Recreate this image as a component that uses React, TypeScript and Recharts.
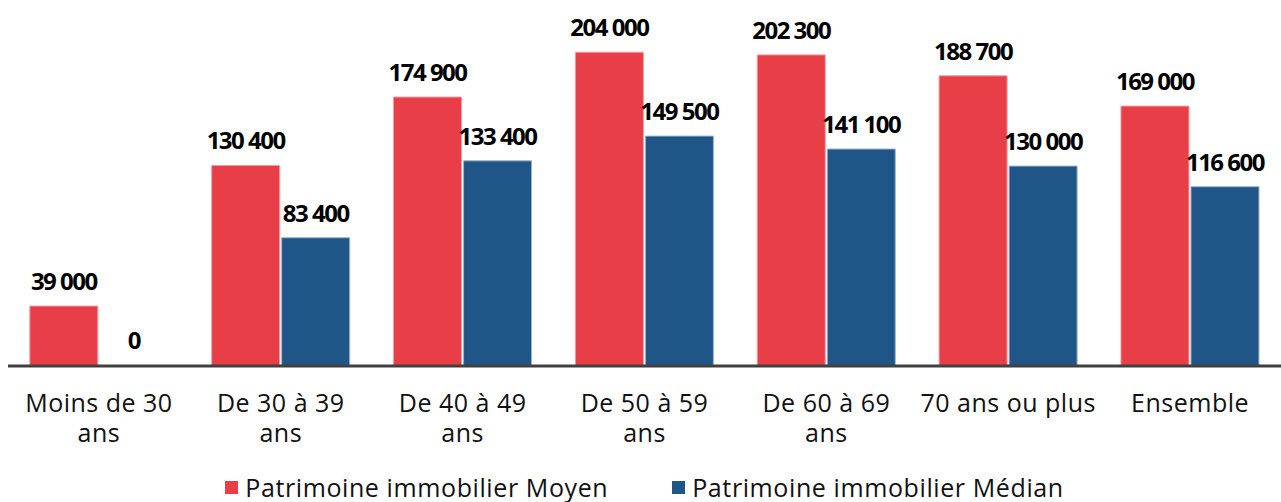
import { BarChart, Bar, XAxis, YAxis, Legend, LabelList, Rectangle } from "recharts";

// Tranches d'âge (the line breaks follow the picture)
const categories = [
  "Moins de 30\nans",
  "De 30 à 39\nans",
  "De 40 à 49\nans",
  "De 50 à 59\nans",
  "De 60 à 69\nans",
  "70 ans ou plus",
  "Ensemble",
];
const moyen = [39000, 130400, 174900, 204000, 202300, 188700, 169000];
const median = [0, 83400, 133400, 149500, 141100, 130000, 116600];

const data = categories.map((name, i) => ({ name, moyen: moyen[i], median: median[i] }));

const RED = "#E83E47";
const BLUE = "#1F5587";
const FONT = "'Open Sans', sans-serif";

const fmt = (v: any) => String(v).replace(/\B(?=(\d{3})+(?!\d))/g, " ");

// value label drawn above each bar
function ValueLabel({ x, y, width, value }: any) {
  if (value == null) return null;
  return (
    <text
      x={Number(x) + Number(width) / 2}
      y={Number(y) - 16}
      textAnchor="middle"
      fill="#000"
      fontFamily={FONT}
      fontSize={24}
      fontWeight={700}
      letterSpacing={-1.5}
    >
      {fmt(value)}
    </text>
  );
}

// zero values keep a 1px rect (so the label shows) but it is not painted
function BarShape(props: any) {
  if (!props.value) return <g />;
  return <Rectangle {...props} />;
}

function CategoryTick({ x, y, payload }: any) {
  const lines = String(payload.value).split("\n");
  return (
    <text x={x} y={y} textAnchor="middle" fill="#111" fontFamily={FONT} fontSize={25} letterSpacing={0.5}>
      {lines.map((l, i) => (
        <tspan key={i} x={x} dy={i === 0 ? 38 : 30}>
          {l}
        </tspan>
      ))}
    </text>
  );
}

function LegendContent({ payload }: any) {
  return (
    <div style={{ display: "flex", justifyContent: "center", gap: 64, height: 36, alignItems: "flex-end" }}>
      {(payload || []).map((p: any) => (
        <div key={p.value} style={{ display: "flex", alignItems: "center", fontFamily: FONT, fontSize: 25, letterSpacing: 0.6, color: "#111", lineHeight: "30px" }}>
          <span style={{ display: "inline-block", width: 13, height: 13, background: p.color, marginRight: 7 }} />
          {p.value}
        </div>
      ))}
    </div>
  );
}

export default function App() {
  return (
    <div style={{ position: "absolute", left: 0, top: 0, background: "#fff" }}>
      <BarChart
        width={1281}
        height={502}
        data={data}
        margin={{ top: 0, right: 0, bottom: 0, left: 8 }}
        barCategoryGap="12%"
        barGap={2}
      >
        <YAxis hide domain={[0, 238000]} />
        <XAxis
          dataKey="name"
          interval={0}
          tickLine={false}
          axisLine={{ stroke: "#404040", strokeWidth: 3 }}
          tick={<CategoryTick />}
          height={100}
        />
        <Legend
          verticalAlign="bottom"
          content={<LegendContent />}
          wrapperStyle={{ height: 36 }}
        />
        <Bar dataKey="moyen" name="Patrimoine immobilier Moyen" fill={RED} stroke="#F39AA0" strokeWidth={1} isAnimationActive={false}>
          <LabelList dataKey="moyen" content={<ValueLabel />} />
        </Bar>
        <Bar
          dataKey="median"
          name="Patrimoine immobilier Médian"
          fill={BLUE}
          stroke="#9AB3CC"
          strokeWidth={1}
          minPointSize={1}
          shape={<BarShape />}
          isAnimationActive={false}
        >
          <LabelList dataKey="median" content={<ValueLabel />} />
        </Bar>
      </BarChart>
    </div>
  );
}
